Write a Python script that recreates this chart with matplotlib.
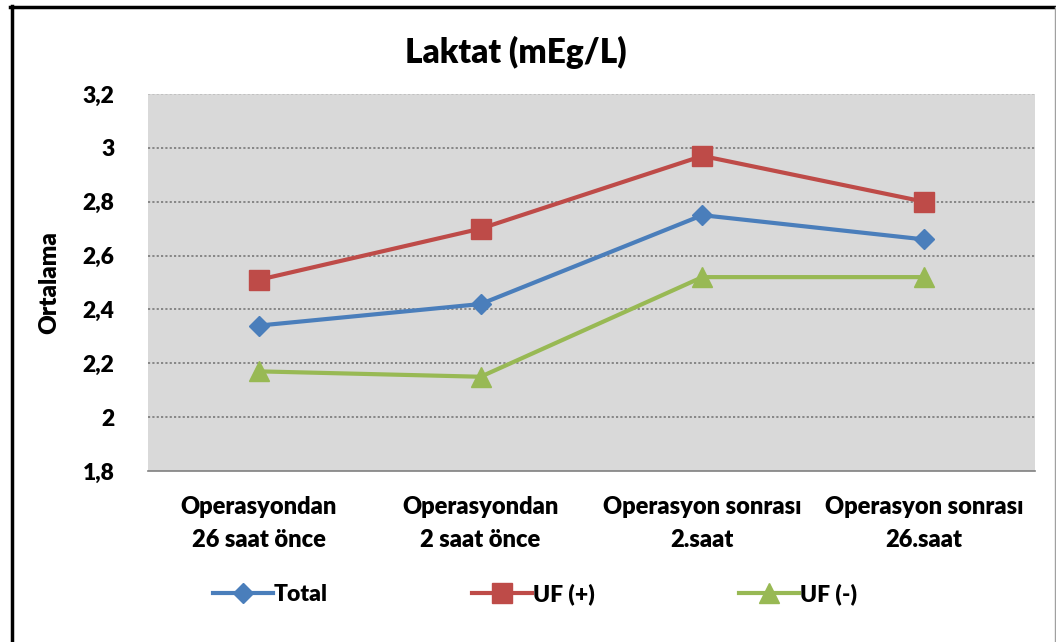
import matplotlib
matplotlib.use("Agg")
import matplotlib.pyplot as plt
from matplotlib.lines import Line2D

plt.rcParams['font.family'] = ['Lato', 'DejaVu Sans']
W8 = 'heavy'
plt.rcParams['font.weight'] = W8

categories = ["Operasyondan\n26 saat önce", "Operasyondan\n2 saat önce",
              "Operasyon sonrası\n2.saat", "Operasyon sonrası\n26.saat"]
total = [2.34, 2.42, 2.75, 2.66]
uf_pos = [2.51, 2.70, 2.97, 2.80]
uf_neg = [2.17, 2.15, 2.52, 2.52]
yticks = [1.8, 2.0, 2.2, 2.4, 2.6, 2.8, 3.0, 3.2]
ytick_labels = ["1,8", "2", "2,2", "2,4", "2,6", "2,8", "3", "3,2"]

W, H = 1056, 642
fig = plt.figure(figsize=(W / 100, H / 100), dpi=100)
ax = fig.add_axes([148 / W, 1 - 471 / H, 887 / W, 377 / H])
ax.set_facecolor('#d9d9d9')

x = list(range(len(categories)))
blue, red, green = '#4a7ebb', '#be4b48', '#98b954'
ax.plot(x, total, color=blue, lw=3, marker='D', ms=10, zorder=3, label='Total')
ax.plot(x, uf_pos, color=red, lw=3, marker='s', ms=14, zorder=3, label='UF (+)')
ax.plot(x, uf_neg, color=green, lw=3, marker='^', ms=14, zorder=3, label='UF (-)')

ax.set_xlim(-0.5, len(categories) - 0.5)
ax.set_ylim(1.8, 3.2)
ax.set_yticks(yticks)
ax.set_yticklabels(ytick_labels)
ax.set_xticks(x)
ax.set_xticklabels(categories, linespacing=1.6)
ax.tick_params(axis='y', length=0, labelsize=16.5, pad=24)
ax.tick_params(axis='x', length=0, labelsize=17, pad=18)
for t in ax.get_xticklabels() + ax.get_yticklabels():
    t.set_fontweight(W8)

for yv in yticks[1:-1]:
    ax.axhline(yv, color='#808080', lw=1.3, ls=(0, (1.2, 1.2)), zorder=1)
ax.axhline(3.2, color='#bfbfbf', lw=1.3, ls=(0, (1.2, 1.2)), zorder=1)
for s in ['top', 'right', 'left']:
    ax.spines[s].set_visible(False)
ax.spines['bottom'].set_color('#808080')
ax.spines['bottom'].set_linewidth(1.2)

ax.set_ylabel('Ortalama', fontsize=17.5, fontweight=W8, labelpad=16)

fig.text(516 / W, 1 - 52 / H, 'Laktat (mEg/L)', ha='center', va='center',
         fontsize=24, fontweight=W8)

leg = fig.legend(loc='center', bbox_to_anchor=(535 / W, 1 - 594 / H), ncol=3,
                 frameon=False, fontsize=16.5, handlelength=2.6, handletextpad=0.05,
                 columnspacing=6.3, markerscale=1.0)
for t in leg.get_texts():
    t.set_fontweight(W8)

# outer frame
fig.add_artist(Line2D([11.5 / W, 11.5 / W], [0, 1 - 6 / H], transform=fig.transFigure,
                      color='black', lw=2.5))
fig.add_artist(Line2D([10 / W, 1055 / W], [1 - 7 / H, 1 - 7 / H], transform=fig.transFigure,
                      color='black', lw=2.5))
fig.add_artist(Line2D([1055 / W, 1055 / W], [0, 1 - 7 / H], transform=fig.transFigure,
                      color='#a0a0a0', lw=1))

fig.savefig('out.png', dpi=100)
